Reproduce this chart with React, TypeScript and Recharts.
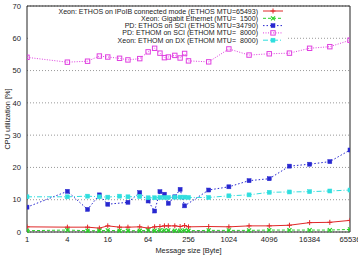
import React from 'react';
import { LineChart, Line, XAxis, YAxis, CartesianGrid, ReferenceArea, Legend } from 'recharts';

const sizes = [1, 4, 8, 12, 16, 24, 32, 48, 64, 80, 96, 112, 128, 160, 192, 224, 256, 512, 1024, 2048, 4096, 8192, 16384, 32768, 65536];
const ipoibCpu = [1.6, 1.5, 1.5, 1.2, 1.9, 1.5, 1.5, 1.6, 1.2, 1.6, 1.7, 1.9, 1.9, 1.9, 1.7, 2.0, 1.6, 1.7, 1.6, 1.9, 1.9, 2.1, 2.9, 3.0, 3.6];
const gigeCpu = [0.4, 0.6, 0.4, 0.4, 0.5, 0.4, 0.4, 0.4, 0.5, 0.4, 0.5, 0.5, 0.5, 0.4, 0.4, 0.5, 0.4, 0.5, 0.5, 0.5, 0.6, 0.6, 0.6, 0.6, 0.8];
const ethosSciCpu = [7.7, 12.6, 7.0, 11.5, 8.6, null, 9.2, 12.2, 9.6, 6.5, 12.5, 11.7, 8.9, 10.9, 13.2, 8.1, null, 13.0, 14.0, 15.9, 16.5, 20.4, 21.0, 21.8, 25.4];
const ethomSciCpu = [54.1, 52.6, 52.9, 54.5, 54.2, 53.8, 53.3, 53.7, 55.8, 56.9, 55.4, 54.0, 54.2, 54.7, 53.9, 55.3, 53.0, 52.7, 56.7, 54.8, 55.2, 55.4, 56.9, 57.4, 59.4];
const ethomDxCpu = [10.9, 10.9, 11.1, 10.9, 10.8, 11.1, 10.9, 11.0, 10.6, 10.6, 10.7, 10.7, 10.7, 10.8, 10.8, 10.8, 10.7, 10.7, 11.2, 11.5, 12.3, 12.4, 12.5, 12.7, 13.0];

const seriesNames = [
  'Xeon: ETHOS on IPoIB connected mode (ETHOS MTU=65493)',
  'Xeon: Gigabit Ethernet (MTU=  1500)',
  'PD: ETHOS on SCI (ETHOS MTU=34790)',
  'PD: ETHOM on SCI (ETHOM MTU=  8000)',
  'Xeon: ETHOM on DX (ETHOM MTU=  8000)',
];
const xTicks = [1, 4, 16, 64, 256, 1024, 4096, 16384, 65536];
const yTicks = [0, 10, 20, 30, 40, 50, 60, 70];

const keys = ['ipoib', 'gige', 'ethosSci', 'ethomSci', 'ethomDx'];
const colors = ['#e02828', '#28d028', '#2828d0', '#e040e0', '#30dede'];
const dashes = [undefined, '3 2', '1.5 2', '1 1.5', '5 2 1 2'];
const markers = ['plus', 'cross', 'fsquare', 'osquare', 'fsquare'];

const data = sizes.map((s, i) => ({
  size: s,
  ipoib: ipoibCpu[i],
  gige: gigeCpu[i],
  ethosSci: ethosSciCpu[i],
  ethomSci: ethomSciCpu[i],
  ethomDx: ethomDxCpu[i],
}));

const FONT = 'Liberation Sans, Arial, sans-serif';

function Marker({ cx, cy, kind, color }: { cx: number; cy: number; kind: string; color: string }) {
  const r = 2.5;
  if (kind === 'plus') {
    return (
      <g stroke={color} strokeWidth={1}>
        <line x1={cx - r} y1={cy} x2={cx + r} y2={cy} />
        <line x1={cx} y1={cy - r} x2={cx} y2={cy + r} />
      </g>
    );
  }
  if (kind === 'cross') {
    return (
      <g stroke={color} strokeWidth={1.2}>
        <line x1={cx - 2} y1={cy - 2} x2={cx + 2} y2={cy + 2} />
        <line x1={cx - 2} y1={cy + 2} x2={cx + 2} y2={cy - 2} />
      </g>
    );
  }
  if (kind === 'osquare') {
    return <rect x={cx - 2.2} y={cy - 2.2} width={4.4} height={4.4} fill="none" stroke={color} strokeWidth={1} />;
  }
  return <rect x={cx - 2} y={cy - 2} width={4} height={4} fill={color} stroke={color} strokeWidth={0.5} />;
}

const makeDot = (kind: string, color: string) => (props: any) => {
  const { cx, cy, index, value } = props;
  if (cx == null || cy == null || value == null || isNaN(cy)) return <g key={`d${index}`} />;
  return (
    <g key={`d${index}`}>
      <Marker cx={cx} cy={cy} kind={kind} color={color} />
    </g>
  );
};

function LegendBox() {
  const rowY = [11, 18.3, 25.6, 32.9, 40.2];
  return (
    <svg width={358} height={48} style={{ display: 'block' }}>
      <rect x={28} y={7} width={259} height={37} fill="#fff" />
      {seriesNames.map((name, i) => (
        <g key={name}>
          <text
            x={258}
            y={rowY[i]}
            textAnchor="end"
            dominantBaseline="central"
            fontSize={7.05}
            fontFamily={FONT}
            fill="#222"
            style={{ whiteSpace: 'pre' }}
          >
            {name}
          </text>
          <line x1={263} x2={283} y1={rowY[i]} y2={rowY[i]} stroke={colors[i]} strokeWidth={1} strokeDasharray={dashes[i]} />
          <Marker cx={273} cy={rowY[i]} kind={markers[i]} color={colors[i]} />
        </g>
      ))}
    </svg>
  );
}

function YLabel(props: any) {
  const vb = props.viewBox || { x: 0, y: 6, width: 27, height: 226 };
  const x = vb.x + 7;
  const y = vb.y + vb.height / 2;
  return (
    <text x={x} y={y} transform={`rotate(-90 ${x} ${y})`} textAnchor="middle" dominantBaseline="central" fontSize={7.4} fontFamily={FONT} fill="#222">
      CPU utilization [%]
    </text>
  );
}

function XLabel(props: any) {
  const vb = props.viewBox || { x: 27, y: 232, width: 323, height: 23 };
  const x = vb.x + vb.width / 2;
  const y = vb.y + 18;
  return (
    <text x={x} y={y} textAnchor="middle" dominantBaseline="central" fontSize={7.4} fontFamily={FONT} fill="#222">
      Message size [Byte]
    </text>
  );
}

export default function App() {
  return (
    <div style={{ position: 'absolute', left: 0, top: 0, width: 358, height: 255, background: '#fff' }}>
      <LineChart width={358} height={255} data={data} margin={{ top: 6, right: 8, bottom: 0, left: 0 }}>
        <CartesianGrid vertical={false} horizontal stroke="#999" strokeDasharray="1 2" />
        <XAxis
          dataKey="size"
          type="number"
          scale="log"
          domain={[1, 65536]}
          allowDataOverflow
          ticks={xTicks}
          interval={0}
          height={23}
          tickLine={false}
          axisLine={false}
          tickSize={3}
          tickMargin={2}
          tick={{ fontSize: 7.6, fontFamily: FONT, fill: '#222' }}
          label={<XLabel />}
        />
        <YAxis
          type="number"
          domain={[0, 70]}
          ticks={yTicks}
          interval={0}
          width={27}
          tickLine={false}
          axisLine={false}
          tickSize={4}
          tickMargin={2}
          tick={{ fontSize: 7.6, fontFamily: FONT, fill: '#222' }}
          label={<YLabel />}
        />
        <ReferenceArea x1={1} x2={65536} y1={0} y2={70} fill="none" stroke="#222" strokeWidth={1} ifOverflow="visible" />
        {keys.map((k, i) => (
          <Line
            key={k}
            dataKey={k}
            name={seriesNames[i]}
            stroke={colors[i]}
            strokeWidth={1}
            strokeDasharray={dashes[i]}
            connectNulls
            isAnimationActive={false}
            dot={makeDot(markers[i], colors[i])}
            activeDot={false}
          />
        ))}
        <Legend
          verticalAlign="middle"
          layout="horizontal"
          content={() => <LegendBox />}
          wrapperStyle={{ position: 'absolute', left: 0, top: 0, width: 358, height: 48 }}
        />
      </LineChart>
    </div>
  );
}
